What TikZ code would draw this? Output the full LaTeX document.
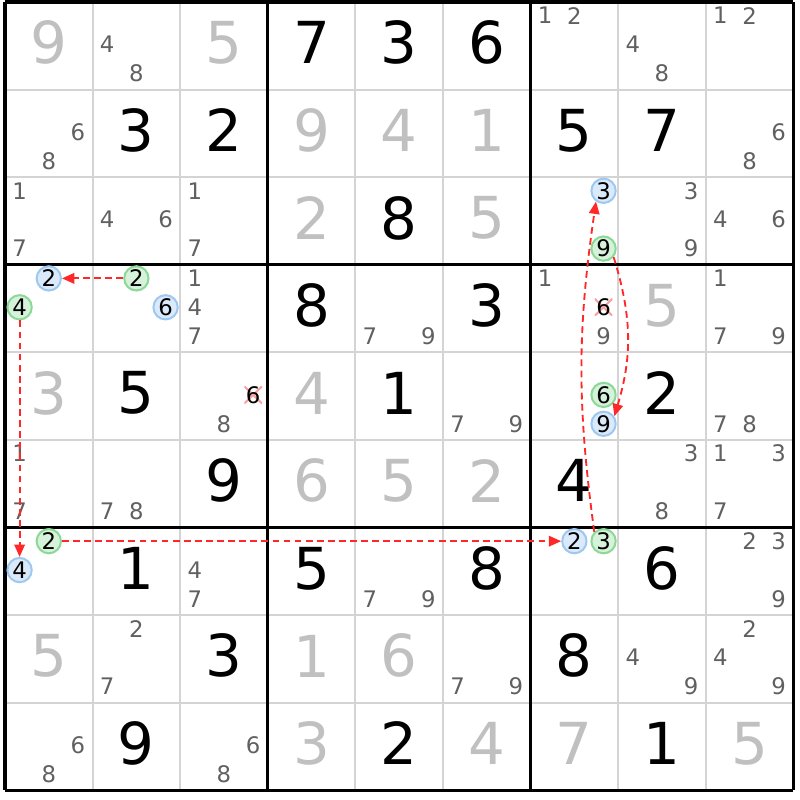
\documentclass[tikz,border=0pt]{standalone}
\usepackage{fontspec}
\setmainfont{DejaVu Sans}
\usetikzlibrary{arrows.meta}

\definecolor{solvedgray}{RGB}{192,192,192}
\definecolor{candgray}{RGB}{96,96,96}
\definecolor{thingray}{RGB}{212,212,212}
\definecolor{chainred}{RGB}{255,40,40}
\definecolor{bluefill}{RGB}{218,234,250}
\definecolor{blueline}{RGB}{158,200,240}
\definecolor{greenfill}{RGB}{214,242,218}
\definecolor{greenline}{RGB}{140,216,150}
\definecolor{crossred}{RGB}{246,160,160}

\begin{document}
\begin{tikzpicture}[x=1cm,y=1cm,
  given/.style={font=\fontsize{18.8}{20}\selectfont, text=black, inner sep=0pt},
  solved/.style={given, text=solvedgray},
  cand/.style={font=\fontsize{7.4}{8}\selectfont, text=candgray, inner sep=0pt},
  bluecand/.style={cand, text=black, circle, draw=blueline, fill=bluefill, line width=0.65pt, minimum size=7.9pt},
  greencand/.style={bluecand, draw=greenline, fill=greenfill},
  struck/.style={cand, text=black, minimum width=5.8pt, minimum height=5.2pt,
    path picture={\draw[crossred, line width=0.65pt]
      (path picture bounding box.south west) -- (path picture bounding box.north east)
      (path picture bounding box.north west) -- (path picture bounding box.south east);}},
  chainarrow/.style={chainred, line width=0.6pt, dash pattern=on 2.2pt off 1.4pt, -{Triangle[length=4pt,width=3.4pt]}}
]
\useasboundingbox (-0.057,0.023) rectangle (9.075,-9.110);

% Thin cell lines
\foreach \i in {1,2,4,5,7,8} {
  \draw[thingray, line width=0.65pt] (\i,0) -- (\i,-9);
  \draw[thingray, line width=0.65pt] (0,-\i) -- (9,-\i);
}
% Box lines
\foreach \i in {0,3,6,9} {
  \draw[black, line width=1pt] (\i,0) -- (\i,-9);
  \draw[black, line width=1pt] (0,-\i) -- (9,-\i);
}

% Given digits
\foreach \r/\c/\d in {0/3/7, 0/4/3, 0/5/6, 1/1/3, 1/2/2, 1/6/5, 1/7/7, 2/4/8,
    3/3/8, 3/5/3, 4/1/5, 4/4/1, 4/7/2, 5/2/9, 5/6/4, 6/1/1, 6/3/5, 6/5/8,
    6/7/6, 7/2/3, 7/6/8, 8/1/9, 8/4/2, 8/7/1}
  \node[given] (g\r\c) at (\c+0.5,-\r-0.465) {\d};

% Solved digits
\foreach \r/\c/\d in {0/0/9, 0/2/5, 1/3/9, 1/4/4, 1/5/1, 2/3/2, 2/5/5, 3/7/5,
    4/0/3, 4/3/4, 5/3/6, 5/4/5, 5/5/2, 7/0/5, 7/3/1, 7/4/6, 8/3/3, 8/5/4,
    8/6/7, 8/8/5}
  \node[solved] (g\r\c) at (\c+0.5,-\r-0.465) {\d};

% Candidates
\foreach \r/\c/\k/\s in {0/1/4/cand, 0/1/8/cand, 0/6/1/cand, 0/6/2/cand, 0/7/4/cand,
    0/7/8/cand, 0/8/1/cand, 0/8/2/cand, 1/0/6/cand, 1/0/8/cand, 1/8/6/cand, 1/8/8/cand,
    2/0/1/cand, 2/0/7/cand, 2/1/4/cand, 2/1/6/cand, 2/2/1/cand, 2/2/7/cand, 2/7/3/cand,
    2/7/9/cand, 2/8/4/cand, 2/8/6/cand, 3/2/1/cand, 3/2/4/cand, 3/2/7/cand, 3/4/7/cand,
    3/4/9/cand, 3/6/1/cand, 3/6/9/cand, 3/8/1/cand, 3/8/7/cand, 3/8/9/cand, 4/2/8/cand,
    4/5/7/cand, 4/5/9/cand, 4/8/7/cand, 4/8/8/cand, 5/0/1/cand, 5/0/7/cand, 5/1/7/cand,
    5/1/8/cand, 5/7/3/cand, 5/7/8/cand, 5/8/1/cand, 5/8/3/cand, 5/8/7/cand, 6/2/4/cand,
    6/2/7/cand, 6/4/7/cand, 6/4/9/cand, 6/8/2/cand, 6/8/3/cand, 6/8/9/cand, 7/1/2/cand,
    7/1/7/cand, 7/5/7/cand, 7/5/9/cand, 7/7/4/cand, 7/7/9/cand, 7/8/2/cand, 7/8/4/cand,
    7/8/9/cand, 8/0/6/cand, 8/0/8/cand, 8/2/6/cand, 8/2/8/cand,
    3/6/6/struck, 4/2/6/struck,
    2/6/3/bluecand, 3/0/2/bluecand, 3/1/6/bluecand, 4/6/9/bluecand, 6/0/4/bluecand, 6/6/2/bluecand,
    2/6/9/greencand, 3/0/4/greencand, 3/1/2/greencand, 4/6/6/greencand, 6/0/2/greencand, 6/6/3/greencand} {
  \pgfmathsetmacro\px{\c+(2*mod(\k-1,3)+1)/6}
  \pgfmathsetmacro\py{-\r-0.155-0.33*floor((\k-1)/3)}
  \node[\s] (n\r\c\k) at (\px,\py) {\k};
}

% Chain
\draw[chainarrow] (n312) -- (n302);
\draw[chainarrow] (n304) -- (n604);
\draw[chainarrow] (n602) -- (n662);
\draw[chainarrow] (n663.135) to[bend left=8] (n263.235);
\draw[chainarrow] (n269.-40) to[bend left=17] (n469.35);

\end{tikzpicture}
\end{document}
